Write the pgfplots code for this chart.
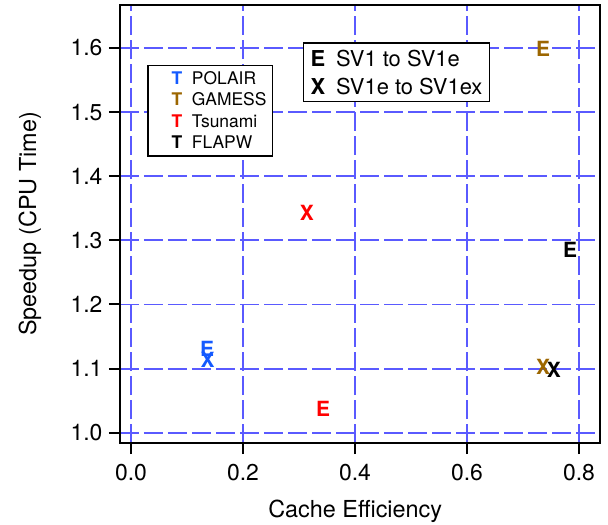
\documentclass[border=0pt]{standalone}
\usepackage{fontspec}
\setmainfont{TeX Gyre Heros}
\usepackage{pgfplots}
\pgfplotsset{compat=1.18}

\definecolor{polblue}{RGB}{20,90,255}
\definecolor{gamesscol}{RGB}{156,102,0}
\definecolor{tsured}{RGB}{255,0,0}
\definecolor{gridblue}{RGB}{90,90,255}

\newcommand{\markfont}{\fontsize{21}{21}\selectfont\bfseries}

% one series per code; each point carries its letter (E or X) as meta
\pgfplotsset{
  letterpts/.style={
    only marks, mark=none,
    nodes near coords, point meta=explicit symbolic,
    nodes near coords style={anchor=center, inner sep=0pt, font=\markfont, text=#1},
    legend image code/.code={%
      \path[draw=none, fill=none] (0bp,0bp) -- (38bp,0bp);
      \node[inner sep=0pt, text=#1, font=\fontsize{17.5}{17.5}\selectfont\bfseries] at (19bp,0bp) {T};}
  }
}

\begin{document}
\begin{tikzpicture}
\begin{axis}[
  scale only axis,
  width=480bp, height=438bp,
  xmin=-0.0196, xmax=0.8375,
  ymin=0.984, ymax=1.667,
  xtick={0,0.2,0.4,0.6,0.8},
  ytick={1.0,1.1,1.2,1.3,1.4,1.5,1.6},
  xticklabel style={/pgf/number format/fixed, /pgf/number format/fixed zerofill, /pgf/number format/precision=1, yshift=-7bp},
  yticklabel style={/pgf/number format/fixed, /pgf/number format/fixed zerofill, /pgf/number format/precision=1, xshift=-3bp},
  /pgf/number format/assume math mode=true,
  tick label style={font=\fontsize{23}{23}\selectfont},
  label style={font=\fontsize{23.5}{23.5}\selectfont},
  tick align=outside, tick pos=left,
  major tick length=11bp,
  every tick/.style={black, line width=2bp},
  axis line style={line width=2bp, black},
  grid=major,
  major grid style={gridblue, line width=1.8bp, dash pattern=on 19bp off 5bp},
  xlabel={Cache Efficiency},
  ylabel={Speedup (CPU Time)},
  xlabel style={at={(axis description cs:0.49,-0.155)}, anchor=center},
  ylabel style={at={(axis description cs:-0.1875,0.5)}, anchor=center},
  legend style={
    at={(axis cs:0.029,1.574)}, anchor=north west,
    draw=black, line width=1.5pt, fill=white,
    font=\fontsize{17.5}{17.5}\selectfont,
    row sep=3bp, inner xsep=4bp, inner ysep=4bp,
    /tikz/every even column/.append style={column sep=8bp}
  },
  legend cell align=left,
]
\addplot[letterpts=polblue] coordinates {(0.136,1.131) [E] (0.137,1.113) [X]};
\addlegendentry{POLAIR}
\addplot[letterpts=gamesscol] coordinates {(0.736,1.598) [E] (0.736,1.1025) [X]};
\addlegendentry{GAMESS}
\addplot[letterpts=tsured] coordinates {(0.343,1.037) [E] (0.314,1.343) [X]};
\addlegendentry{Tsunami}
\addplot[letterpts=black] coordinates {(0.784,1.285) [E] (0.755,1.098) [X]};
\addlegendentry{FLAPW}

% key for the two upgrade steps
\node[draw=black, line width=1.5pt, fill=white, anchor=north west,
      align=left, inner xsep=7bp, inner ysep=7bp,
      font=\fontsize{22}{28}\selectfont]
  at (axis cs:0.307,1.609)
  {\textbf{E}\enspace SV1 to SV1e\\ \textbf{X}\enspace SV1e to SV1ex};
\end{axis}
\pgfresetboundingbox
\path ([shift={(-120bp,-82bp)}]current axis.south west) rectangle ([shift={(8bp,5bp)}]current axis.north east);
\end{tikzpicture}
\end{document}
